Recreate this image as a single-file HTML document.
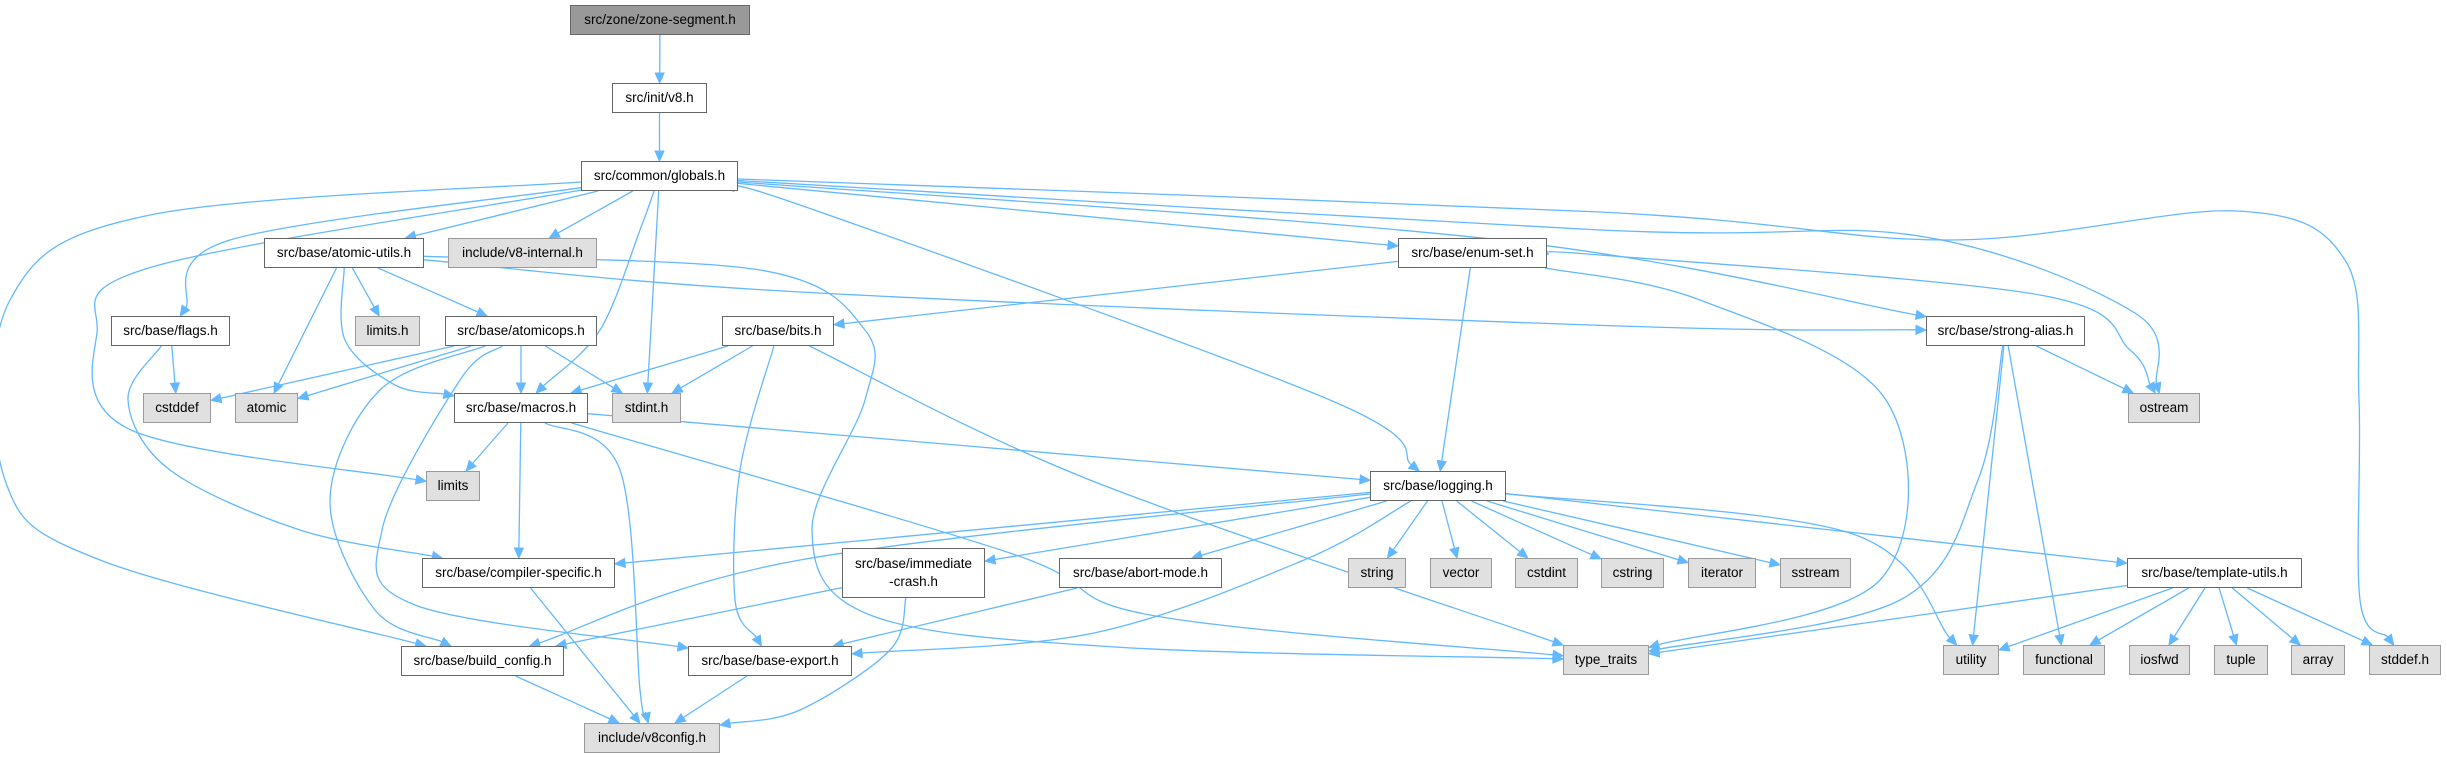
<!DOCTYPE html>
<html><head><meta charset="utf-8">
<style>
html,body{margin:0;padding:0;background:#fff;}
body{width:2447px;height:758px;overflow:hidden;position:relative;}
svg{position:absolute;left:0;top:0;}
.n{position:absolute;box-sizing:border-box;border:1.5px solid #666;background:#fff;font-family:"Liberation Sans",sans-serif;font-size:13.5px;color:#000;display:flex;align-items:center;justify-content:center;text-align:center;line-height:18px;white-space:nowrap;}
.g{background:#e0e0e0;border-color:#999;}
.t{background:#999;border-color:#666;}
</style></head><body>
<svg id="s" width="2447" height="758" xmlns="http://www.w3.org/2000/svg"></svg>
<div id="nodes"></div>
<script>
var N={
zone:[570,5,180,30,'src/zone/zone-segment.h','t'],
v8:[612,83,95,30,'src/init/v8.h'],
glob:[581,161,157,30,'src/common/globals.h'],
au:[264,238,160,30,'src/base/atomic-utils.h'],
v8i:[448,238,149,30,'include/v8-internal.h','g'],
enm:[1398,238,149,30,'src/base/enum-set.h'],
flags:[111,316,119,30,'src/base/flags.h'],
limh:[355,316,65,30,'limits.h','g'],
aops:[445,316,152,30,'src/base/atomicops.h'],
bits:[722,316,112,30,'src/base/bits.h'],
sa:[1926,316,159,30,'src/base/strong-alias.h'],
cstddef:[143,393,68,30,'cstddef','g'],
atomic:[235,393,63,30,'atomic','g'],
mac:[454,393,134,30,'src/base/macros.h'],
stdint:[612,393,69,30,'stdint.h','g'],
ost:[2128,393,72,30,'ostream','g'],
lim:[426,471,54,30,'limits','g'],
log:[1370,471,136,30,'src/base/logging.h'],
cs:[422,558,193,30,'src/base/compiler-specific.h'],
ic:[842,548,143,50,'src/base/immediate<br>-crash.h'],
am:[1059,558,163,30,'src/base/abort-mode.h'],
str:[1348,558,58,30,'string','g'],
vec:[1430,558,62,30,'vector','g'],
cstdint:[1515,558,63,30,'cstdint','g'],
cstring:[1601,558,63,30,'cstring','g'],
iter:[1688,558,68,30,'iterator','g'],
sstr:[1780,558,71,30,'sstream','g'],
tu:[2127,558,175,30,'src/base/template-utils.h'],
bc:[401,646,163,30,'src/base/build_config.h'],
be:[688,646,164,30,'src/base/base-export.h'],
tt:[1563,645,86,30,'type_traits','g'],
util:[1943,645,56,30,'utility','g'],
func:[2023,645,82,30,'functional','g'],
iosfwd:[2129,645,61,30,'iosfwd','g'],
tuple:[2214,645,54,30,'tuple','g'],
arr:[2291,645,54,30,'array','g'],
stddef:[2369,645,72,30,'stddef.h','g'],
v8c:[584,723,136,30,'include/v8config.h','g']
};
var E=[
['zone','v8'],['v8','glob'],
['glob','au'],['glob','v8i'],['glob','flags',[[230,240]]],['glob','mac',[[640,230],[600,330]]],['glob','stdint'],
['glob','log',[[800,205],[1330,400]]],['glob','enm'],['glob','sa',[[1500,240]]],
['glob','ost',[[1600,230],[1919,236],[2135,313]]],
['glob','stddef',[[1600,212],[1950,240],[2237,211],[2345,260],[2359,400],[2360,600]]],
['glob','bc',[[150,215],[10,300],[5,480],[100,560]]],
['glob','lim',[[152,267],[97,333],[131,430]]],
['glob','tt',[[1300,230],[1400,330]],1],
['au','atomic'],['au','limh'],['au','aops'],['au','mac',[[345,340],[395,385]]],
['au','sa',[[800,292],[1620,326]]],
['au','tt',[[760,270],[865,330],[865,400],[812,530],[870,615],[1115,647]]],
['flags','cstddef'],['flags','cs',[[128,400],[170,470],[300,530]]],
['aops','cstddef'],['aops','atomic'],['aops','mac'],['aops','stdint'],
['aops','bc',[[380,390],[330,500],[375,610]]],['aops','be',[[460,380],[382,530],[415,605]]],
['bits','mac'],['bits','stdint'],['bits','be',[[740,470],[735,600]]],['bits','tt',[[1090,480]]],
['enm','bits'],['enm','log'],['enm','tt',[[1700,300],[1886,400],[1880,580]]],['enm','ost',[[1600,255],[2040,295],[2130,350]]],
['sa','ost'],['sa','tt',[[1978,480],[1900,600]]],['sa','util'],['sa','func'],
['mac','lim'],['mac','cs'],['mac','v8c',[[620,470],[640,690]]],['mac','log'],['mac','tt',[[1010,553],[1150,615]]],
['log','cs'],['log','bc',[[800,560]]],['log','ic'],['log','am'],['log','be',[[1304,560],[1094,633]]],
['log','str'],['log','vec'],['log','cstdint'],['log','cstring'],['log','iter'],['log','sstr'],
['log','util',[[1850,533]]],['log','tu'],
['ic','bc'],['ic','v8c',[[890,650],[800,710]]],['am','be'],
['tu','tt'],['tu','util'],['tu','func'],['tu','iosfwd'],['tu','tuple'],['tu','arr'],['tu','stddef'],
['cs','v8c'],['bc','v8c'],['be','v8c']
];
function c(k){var n=N[k];return [n[0]+n[2]/2,n[1]+n[3]/2];}
function clip(k,p){var n=N[k],C=c(k),dx=p[0]-C[0],dy=p[1]-C[1];var hw=n[2]/2,hh=n[3]/2;var t=Math.min(dx?hw/Math.abs(dx):1e9,dy?hh/Math.abs(dy):1e9);return [C[0]+dx*t,C[1]+dy*t];}
var col='#63b8ff',svg='';
E.forEach(function(e){
 if(e[3])return;
 var via=e[2]||[];
 var s=clip(e[0],via.length?via[0]:c(e[1]));
 var t=clip(e[1],via.length?via[via.length-1]:c(e[0]));
 var pts=[s].concat(via).concat([t]);
 var L=pts.length,a=pts[L-2],dx=t[0]-a[0],dy=t[1]-a[1],d=Math.hypot(dx,dy),ux=dx/d,uy=dy/d;
 var end=[t[0]-ux*10,t[1]-uy*10];pts[L-1]=end;
 var p='M'+pts[0][0].toFixed(1)+','+pts[0][1].toFixed(1);
 for(var i=0;i<pts.length-1;i++){
  var p0=pts[i-1]||pts[i],p1=pts[i],p2=pts[i+1],p3=pts[i+2]||p2;
  var c1=[p1[0]+(p2[0]-p0[0])/6,p1[1]+(p2[1]-p0[1])/6],c2=[p2[0]-(p3[0]-p1[0])/6,p2[1]-(p3[1]-p1[1])/6];
  p+=' C'+c1[0].toFixed(1)+','+c1[1].toFixed(1)+' '+c2[0].toFixed(1)+','+c2[1].toFixed(1)+' '+p2[0].toFixed(1)+','+p2[1].toFixed(1);
 }
 svg+='<path d="'+p+'" fill="none" stroke="'+col+'" stroke-width="1.3"/>';
 var px=-uy,py=ux;
 svg+='<polygon points="'+t[0]+','+t[1]+' '+(end[0]+px*4.5)+','+(end[1]+py*4.5)+' '+(end[0]-px*4.5)+','+(end[1]-py*4.5)+'" fill="'+col+'" stroke="'+col+'"/>';
});
document.getElementById('s').innerHTML=svg;
var h='';
for(var k in N){var n=N[k];h+='<div class="n '+(n[5]||'')+'" style="left:'+n[0]+'px;top:'+n[1]+'px;width:'+n[2]+'px;height:'+n[3]+'px">'+n[4]+'</div>';}
document.getElementById('nodes').innerHTML=h;
</script>
</body></html>
